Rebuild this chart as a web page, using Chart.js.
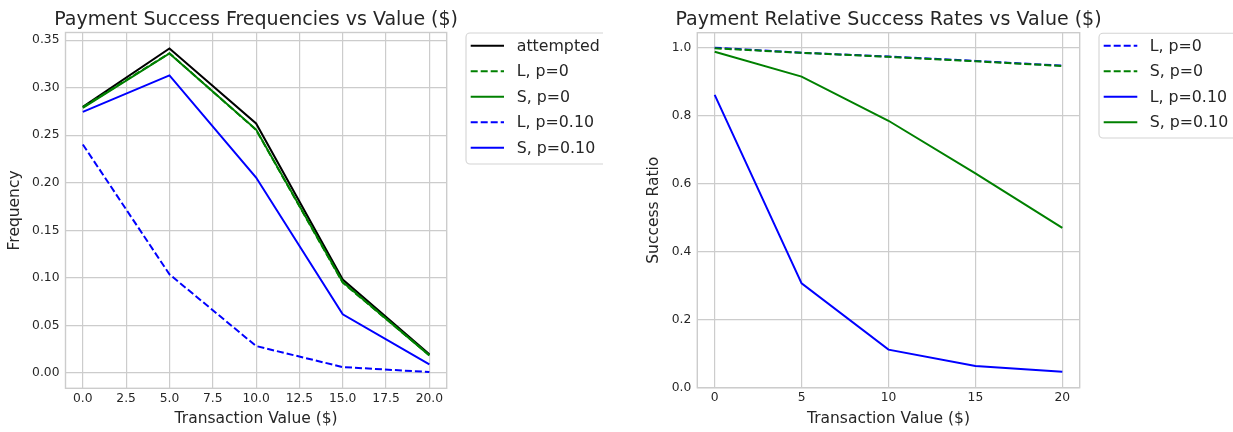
<!DOCTYPE html>
<html>
<head>
<meta charset="utf-8">
<script src="https://cdn.jsdelivr.net/npm/chart.js@4"></script>
<style>
  html, body { margin: 0; padding: 0; background: #ffffff; }
  #wrap { position: relative; width: 1233px; height: 432px; overflow: hidden; }
  canvas { position: absolute; top: 0; }
</style>
</head>
<body>
<div id="wrap">
  <canvas id="left" width="603" height="432" style="left:0px;width:603px;height:432px"></canvas>
  <canvas id="right" width="630" height="432" style="left:603px;width:630px;height:432px"></canvas>
</div>
<script>
// ---------- data ----------
const xValues = [0, 5, 10, 15, 20];

// left chart: frequencies
const freqAttempted = [0.2798, 0.3413, 0.2624, 0.0983, 0.0197];
const freqLp0       = [0.2796, 0.3362, 0.2556, 0.0950, 0.0187];
const freqSp0       = [0.2788, 0.3360, 0.2560, 0.0957, 0.0186];
const freqLp10      = [0.2403, 0.1038, 0.0284, 0.0063, 0.0011];
const freqSp10      = [0.2746, 0.3129, 0.2055, 0.0618, 0.0092];

// right chart: relative success ratios
const ratioLp0  = [1.000, 0.985, 0.974, 0.961, 0.947];
const ratioSp0  = [0.998, 0.985, 0.973, 0.960, 0.946];
const ratioLp10 = [0.861, 0.307, 0.112, 0.064, 0.047];
const ratioSp10 = [0.988, 0.915, 0.785, 0.630, 0.470];

// tick labels
const leftXTicks  = [0, 2.5, 5, 7.5, 10, 12.5, 15, 17.5, 20];
const leftYTicks  = [0, 0.05, 0.10, 0.15, 0.20, 0.25, 0.30, 0.35];
const rightXTicks = [0, 5, 10, 15, 20];
const rightYTicks = [0, 0.2, 0.4, 0.6, 0.8, 1.0];

const leftTitle  = 'Payment Success Frequencies vs Value ($)';
const rightTitle = 'Payment Relative Success Rates vs Value ($)';
const xLabel = 'Transaction Value ($)';
const leftYLabel = 'Frequency';
const rightYLabel = 'Success Ratio';

// ---------- styling ----------
const FONT = "'DejaVu Sans', 'Noto Sans', sans-serif";
const TEXT = '#262626';
const GRID = '#cccccc';
const BLACK = '#000000', GREEN = '#008000', BLUE = '#0000ff';
const DASH = [7, 3];
const LW = 2;

function pts(ys) { return xValues.map((x, i) => ({ x: x, y: ys[i] })); }

function series(label, ys, color, dashed) {
  return {
    label: label, data: pts(ys), borderColor: color, backgroundColor: color,
    borderWidth: LW, borderDash: dashed ? DASH : [], pointRadius: 0,
    pointHoverRadius: 0, tension: 0, fill: false
  };
}

const decorPlugin = {
  id: 'decor',
  afterDatasetsDraw(chart, args, opts) {
    const ctx = chart.ctx, a = chart.chartArea;
    ctx.save();
    // spines
    ctx.strokeStyle = GRID; ctx.lineWidth = 1.4;
    ctx.strokeRect(a.left, a.top, a.right - a.left, a.bottom - a.top);
    // title
    ctx.fillStyle = TEXT;
    ctx.font = opts.titleSize + 'px ' + FONT;
    ctx.textAlign = 'center'; ctx.textBaseline = 'alphabetic';
    ctx.fillText(opts.title, (a.left + a.right) / 2, opts.titleY);
    // legend
    const L = opts.legend;
    const n = L.items.length;
    ctx.beginPath();
    const bx = L.x, by = L.y, bw = L.w, bh = L.h, r = 4;
    ctx.moveTo(bx + r, by);
    ctx.lineTo(bx + bw - r, by); ctx.arcTo(bx + bw, by, bx + bw, by + r, r);
    ctx.lineTo(bx + bw, by + bh - r); ctx.arcTo(bx + bw, by + bh, bx + bw - r, by + bh, r);
    ctx.lineTo(bx + r, by + bh); ctx.arcTo(bx, by + bh, bx, by + bh - r, r);
    ctx.lineTo(bx, by + r); ctx.arcTo(bx, by, bx + r, by, r);
    ctx.closePath();
    ctx.fillStyle = 'rgba(255,255,255,0.8)'; ctx.fill();
    ctx.strokeStyle = '#d4d4d4'; ctx.lineWidth = 1.1; ctx.stroke();
    ctx.font = L.fontSize + 'px ' + FONT;
    ctx.textAlign = 'left'; ctx.textBaseline = 'middle';
    for (let i = 0; i < n; i++) {
      const ds = chart.data.datasets[L.items[i]];
      const y = L.firstY + i * L.step;
      ctx.beginPath();
      ctx.strokeStyle = ds.borderColor; ctx.lineWidth = LW;
      ctx.setLineDash(ds.borderDash || []);
      ctx.moveTo(L.lineX0, y); ctx.lineTo(L.lineX1, y); ctx.stroke();
      ctx.setLineDash([]);
      ctx.fillStyle = TEXT;
      ctx.fillText(ds.label, L.textX, y + 1);
    }
    ctx.restore();
  }
};

function makeChart(id, cfg) {
  const datasets = cfg.datasets.map((d, i) => Object.assign(d, { order: cfg.datasets.length - i }));
  return new Chart(document.getElementById(id), {
    type: 'line',
    data: { datasets: datasets },
    plugins: [decorPlugin],
    options: {
      responsive: false, animation: false, devicePixelRatio: 1,
      layout: { padding: cfg.padding },
      plugins: {
        legend: { display: false }, tooltip: { enabled: false }, title: { display: false },
        decor: cfg.decor
      },
      scales: {
        x: {
          type: 'linear', min: cfg.xMin, max: cfg.xMax,
          afterBuildTicks: s => { s.ticks = cfg.xTicks.map(v => ({ value: v })); },
          afterFit: s => { s.height = cfg.xAxisH; },
          grid: { color: GRID, lineWidth: 1.2, drawTicks: false },
          border: { display: false },
          ticks: { color: TEXT, font: { family: FONT, size: 12.3 }, padding: cfg.xTickPad,
                   maxRotation: 0, autoSkip: false, callback: cfg.xFmt },
          title: { display: true, text: xLabel, color: TEXT,
                   font: { family: FONT, size: 15.5 }, padding: { top: 0, bottom: cfg.xTitlePad } }
        },
        y: {
          type: 'linear', min: cfg.yMin, max: cfg.yMax,
          afterBuildTicks: s => { s.ticks = cfg.yTicks.map(v => ({ value: v })); },
          afterFit: s => { s.width = cfg.yAxisW; },
          grid: { color: GRID, lineWidth: 1.2, drawTicks: false },
          border: { display: false },
          ticks: { color: TEXT, font: { family: FONT, size: 12.3 }, padding: 6,
                   autoSkip: false, callback: cfg.yFmt },
          title: { display: true, text: cfg.yLabel, color: TEXT,
                   font: { family: FONT, size: 15.5 }, padding: { top: cfg.yTitlePad, bottom: 0 } }
        }
      }
    }
  });
}

// left chart
makeChart('left', {
  datasets: [
    series('attempted', freqAttempted, BLACK, false),
    series('L, p=0', freqLp0, GREEN, true),
    series('S, p=0', freqSp0, GREEN, false),
    series('L, p=0.10', freqLp10, BLUE, true),
    series('S, p=0.10', freqSp10, BLUE, false)
  ],
  padding: { left: 0, top: 32.5, right: 603 - 446.7, bottom: 0 },
  xMin: -1, xMax: 21, yMin: -0.016, yMax: 0.358,
  xTicks: leftXTicks, yTicks: leftYTicks,
  xFmt: v => Number(v).toFixed(1), yFmt: v => Number(v).toFixed(2),
  xAxisH: 432 - 388.3, yAxisW: 65.5, xTickPad: 3, xTitlePad: 3.5, yTitlePad: 5.7,
  yLabel: leftYLabel,
  decor: {
    title: leftTitle, titleSize: 19, titleY: 24.5,
    legend: { items: [0, 1, 2, 3, 4], x: 466, y: 33, w: 170, h: 131,
              firstY: 45.7, step: 25.5, lineX0: 470.7, lineX1: 504, textX: 516.7, fontSize: 15.8 }
  }
});

// right chart
makeChart('right', {
  datasets: [
    series('L, p=0', ratioLp0, BLUE, true),
    series('S, p=0', ratioSp0, GREEN, true),
    series('L, p=0.10', ratioLp10, BLUE, false),
    series('S, p=0.10', ratioSp10, GREEN, false)
  ],
  padding: { left: 0, top: 32.7, right: 630 - 476.7, bottom: 0 },
  xMin: -1, xMax: 21, yMin: 0, yMax: 1.044,
  xTicks: rightXTicks, yTicks: rightYTicks,
  xFmt: v => String(v), yFmt: v => Number(v).toFixed(1),
  xAxisH: 432 - 387.7, yAxisW: 94.3, xTickPad: 3, xTitlePad: 3.5, yTitlePad: 41.7,
  yLabel: rightYLabel,
  decor: {
    title: rightTitle, titleSize: 19, titleY: 24.5,
    legend: { items: [0, 1, 2, 3], x: 496, y: 33.3, w: 170, h: 104.7,
              firstY: 45.7, step: 25.5, lineX0: 500.7, lineX1: 534.3, textX: 546.7, fontSize: 15.8 }
  }
});
</script>
</body>
</html>
